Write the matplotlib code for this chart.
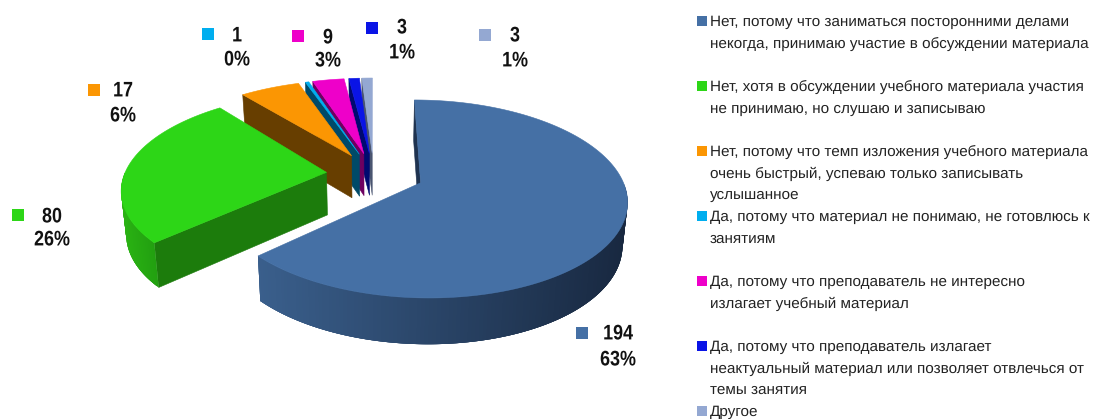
import matplotlib
matplotlib.use("Agg")
import matplotlib.pyplot as plt
import numpy as np
from matplotlib.patheffects import AbstractPathEffect
from matplotlib.transforms import Affine2D

plt.rcParams["text.hinting"] = "none"

values = [194, 80, 17, 1, 9, 3, 3]
percents = ["63%", "26%", "6%", "0%", "3%", "1%", "1%"]
legend_labels = [
    ["Нет, потому что заниматься посторонними делами", "некогда, принимаю участие в обсуждении материала"],
    ["Нет, хотя в обсуждении учебного материала участия", "не принимаю, но слушаю и записываю"],
    ["Нет, потому что темп изложения учебного материала", "очень быстрый, успеваю только записывать", "услышанное"],
    ["Да, потому что материал не понимаю, не готовлюсь к", "занятиям"],
    ["Да, потому что преподаватель не интересно", "излагает учебный материал"],
    ["Да, потому что преподаватель излагает", "неактуальный материал или позволяет отвлечься от", "темы занятия"],
    ["Другое"],
]
top_colors = ["#4570a5", "#2dd617", "#fb9603", "#00aeef", "#ee00c9", "#0a14e6", "#94a8d2"]
face_colors = ["#1f3350", "#1c7c0c", "#673e00", "#004a68", "#6e0060", "#000a70", "#4a5570"]
wall_left = ["#3a5f8c", "#2ab313", "#673e00", "#004a68", "#6e0060", "#000a70", "#4a5570"]
wall_right = ["#182840", "#22a010", "#673e00", "#004a68", "#6e0060", "#000a70", "#4a5570"]

# label layout: square x, square y, text x, first line y, second line y
label_pos = [
    (582, 333, 618, 334, 360),
    (18, 215, 52, 217, 240),
    (94, 90, 123, 91, 116),
    (208, 34, 237, 36, 60),
    (298, 36, 328, 38, 61),
    (372, 28, 402, 28, 53),
    (485, 35, 515, 36, 61),
]

CX, CY = 373.6, 174.0
RX, RY = 206.0, 93.5
PERSP = 0.161
EXPLODE = 0.23
DEPTH = 42.6
# small per-slice corrections of the projected shape
squash = {0: 0.97, 1: 0.98}
shift = {0: 3.0}


class Condensed(AbstractPathEffect):
    # no narrow font installed, so squeeze the glyphs sideways
    def __init__(self, factor):
        super().__init__()
        self.factor = factor

    def draw_path(self, renderer, gc, tpath, affine, rgbFace=None):
        ext = tpath.get_extents()
        dx = (ext.x0 + ext.x1) / 2 * (1 - self.factor)
        narrow = Affine2D().scale(self.factor, 1).translate(dx, 0) + affine
        renderer.draw_path(gc, tpath, narrow, rgbFace)


def project(u, v):
    s = 1 + PERSP * v
    return CX + RX * u / s, CY - RY * v / s


def lower(x, y):
    return CX + (x - CX) * 0.98, CY + (y - CY) * 1.03 + DEPTH


def draw_slice(ax, idx, start, end):
    mid = (start + end) / 2
    sq = squash.get(idx, 1.0)
    dx = shift.get(idx, 0.0)

    def ring(theta):
        # theta is clockwise from 12 o'clock, in radians
        u = sq * np.sin(theta) + EXPLODE * np.sin(mid)
        v = np.cos(theta) + EXPLODE * np.cos(mid)
        x, y = project(u, v)
        return x + dx, y

    ax_, ay_ = project(EXPLODE * np.sin(mid), EXPLODE * np.cos(mid))
    apex = (ax_ + dx, ay_)
    arc = np.linspace(start, end, 240)
    x, y = ring(arc)

    # radial cut on the leading edge
    x0, y0 = ring(start)
    corners = [apex, (x0, y0), lower(x0, y0), lower(*apex)]
    ax.fill(*zip(*corners), color=face_colors[idx], lw=0.4, zorder=1)

    # outer wall, only the part turned to the viewer
    front = (arc > np.pi / 2) & (arc < 3 * np.pi / 2)
    if front.any():
        xf, yf = x[front], y[front]
        xb, yb = lower(xf, yf)
        c0 = np.array(matplotlib.colors.to_rgb(wall_left[idx]))
        c1 = np.array(matplotlib.colors.to_rgb(wall_right[idx]))
        span = max(xf.max() - xf.min(), 1)
        # each quad overlaps the next ones so no seams show
        for i in range(len(xf) - 1):
            k = min(i + 4, len(xf) - 1)
            t = (0.5 * (xf[i] + xf[i + 1]) - xf.min()) / span
            ax.fill([xf[i], xf[k], xb[k], xb[i]], [yf[i], yf[k], yb[k], yb[i]],
                    color=c0 + (c1 - c0) * t, lw=0, zorder=1)

    ax.fill(np.r_[apex[0], x], np.r_[apex[1], y], color=top_colors[idx], lw=0.4, zorder=1)


fig = plt.figure(figsize=(10.93, 4.19), dpi=100)
ax = fig.add_axes([0, 0, 1, 1])
ax.set_xlim(0, 1093)
ax.set_ylim(419, 0)
ax.axis("off")

edges = np.r_[0, np.cumsum(values)] / sum(values) * 2 * np.pi
for i in reversed(range(len(values))):
    draw_slice(ax, i, edges[i], edges[i + 1])

for i, (sx, sy, tx, y1, y2) in enumerate(label_pos):
    ax.fill([sx - 6, sx + 6, sx + 6, sx - 6], [sy - 6, sy - 6, sy + 6, sy + 6], color=top_colors[i], lw=0, zorder=2)
    for text, yy in ((str(values[i]), y1), (percents[i], y2)):
        ax.text(tx, yy, text, ha="center", va="center", family="Liberation Sans", weight="bold",
                fontsize=15.2, color="#111111", path_effects=[Condensed(0.85)])

for i, lines in enumerate(legend_labels):
    y0 = 22 + 65 * i
    ax.fill([697, 707, 707, 697], [y0 - 6, y0 - 6, y0 + 4, y0 + 4], color=top_colors[i], lw=0, zorder=2)
    for j, line in enumerate(lines):
        ax.text(710, y0 + 21.7 * j, line, ha="left", va="center", family="Liberation Sans",
                fontsize=11, color="#222222")

fig.savefig("out.png", dpi=100)
plt.close(fig)
